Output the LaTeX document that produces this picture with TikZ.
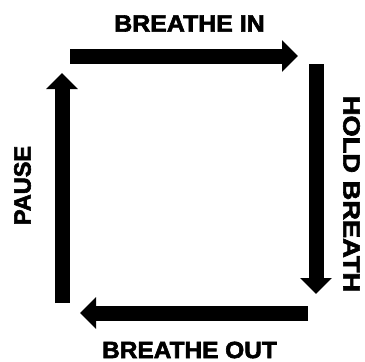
\documentclass[tikz,border=0pt]{standalone}
\usepackage{fontspec}
\newfontfamily\heavyfont[FakeBold=2.5]{Liberation Sans}
\usetikzlibrary{arrows.meta}

\tikzset{
  bigarrow/.style={line width=15pt, -{Triangle[length=16pt,width=31pt]}},
  steplabel/.style={font=\heavyfont\bfseries\fontsize{23.5}{24}\selectfont, inner sep=0pt}
}

\begin{document}
\begin{tikzpicture}[x=1pt, y=-1pt]
\useasboundingbox (0,0) rectangle (365,362);

%% corners of the square
\coordinate (inA) at (70,56);
\coordinate (inB) at (298,56);
\coordinate (holdA) at (316,64);
\coordinate (holdB) at (316,294);
\coordinate (outA) at (308,313);
\coordinate (outB) at (80,313);
\coordinate (pauseA) at (62,303);
\coordinate (pauseB) at (62,73);

%% arrows
\draw[bigarrow] (inA) -- (inB);
\draw[bigarrow] (holdA) -- (holdB);
\draw[bigarrow] (outA) -- (outB);
\draw[bigarrow] (pauseA) -- (pauseB);

%% labels
\node[steplabel, xscale=1.06] (breathein) at (189.5,23.5) {BREATHE IN};
\node[steplabel, rotate=-90, xscale=1.16] (hold) at (351.5,194) {HOLD BREATH};
\node[steplabel, xscale=1.04] (breatheout) at (189.5,350) {BREATHE OUT};
\node[steplabel, rotate=90] (pause) at (22.5,185.5) {PAUSE};
\end{tikzpicture}
\end{document}
